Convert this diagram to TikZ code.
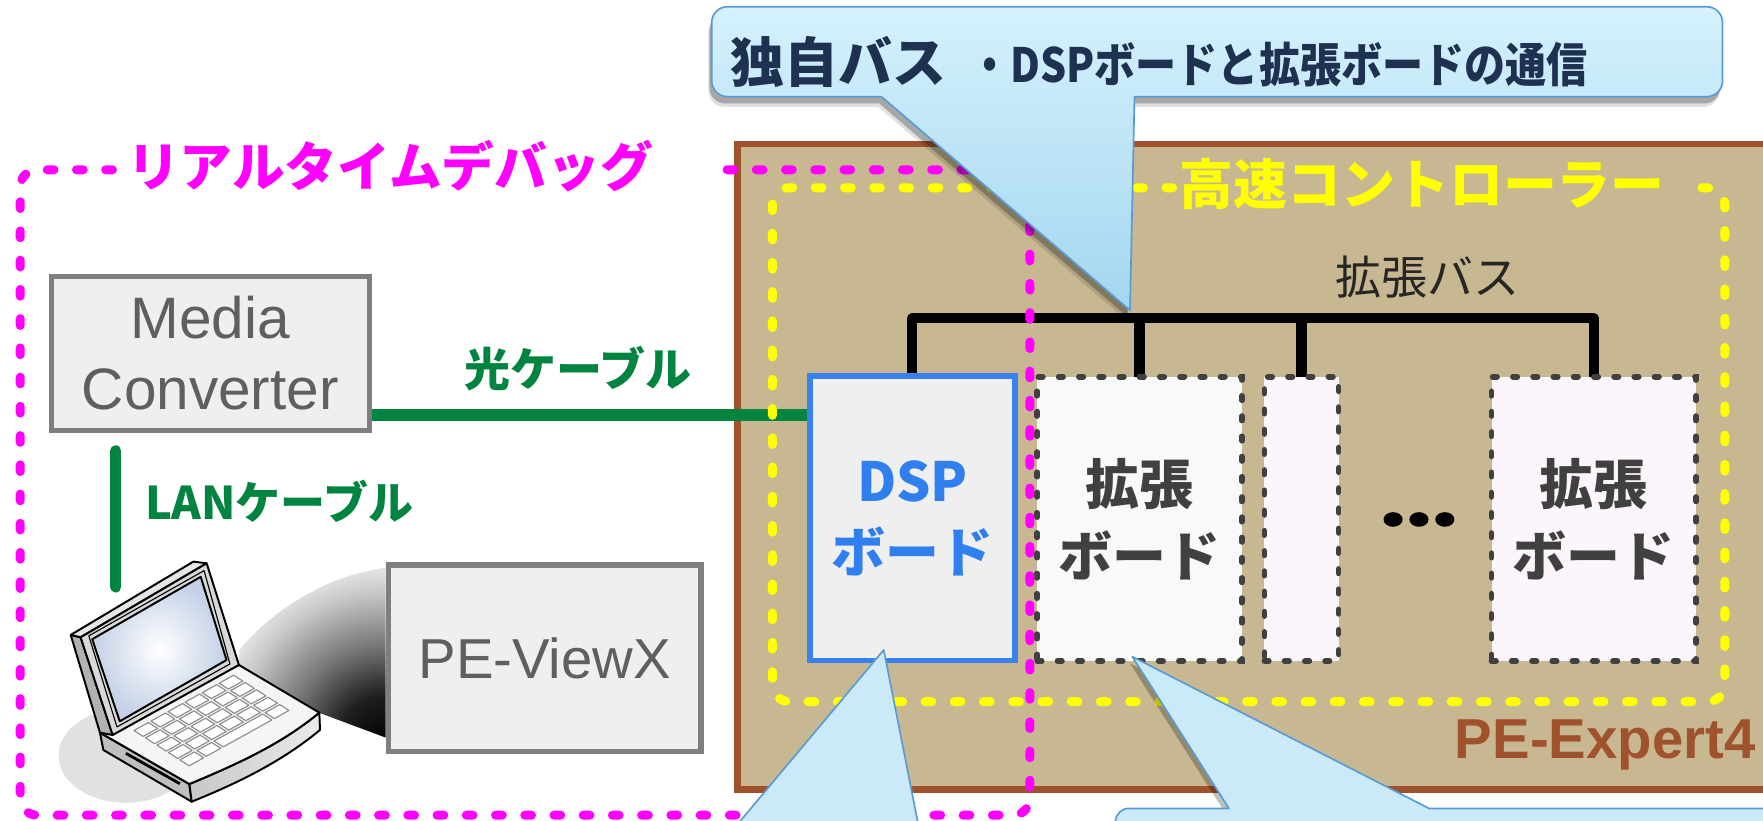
\documentclass[tikz,border=0pt]{standalone}
\usepackage{graphicx}
\usepackage{fontspec}
\setmainfont{Liberation Sans}
\newfontfamily\jpfont{Noto Sans CJK JP}
\usetikzlibrary{calc}

\definecolor{rtMag}{HTML}{FF00FF}
\definecolor{hsYel}{HTML}{FFFF00}
\definecolor{houseTan}{HTML}{C7B891}
\definecolor{houseBrown}{HTML}{A0522D}
\definecolor{cableGreen}{HTML}{00843F}
\definecolor{boxGray}{HTML}{7F7F7F}
\definecolor{boxFill}{HTML}{EFEFEF}
\definecolor{boxText}{HTML}{5F5F5F}
\definecolor{dspBlue}{HTML}{3A80EE}
\definecolor{dspText}{HTML}{2F7FEE}
\definecolor{boardDark}{HTML}{404040}
\definecolor{boardFillA}{HTML}{F9F9F9}
\definecolor{boardFillB}{HTML}{FCF6FC}
\definecolor{navyText}{HTML}{1F3150}
\definecolor{busText}{HTML}{262626}
\definecolor{callTop}{HTML}{D5F1FD}
\definecolor{callBot}{HTML}{A3D6EF}
\definecolor{callFill}{HTML}{CBEAF9}
\definecolor{callEdge}{HTML}{5B9BD5}
\definecolor{screenBlue}{HTML}{C3D0E6}
\definecolor{lapShadow}{HTML}{E1E1E1}

\pgfdeclarelayer{base}
\pgfdeclarelayer{wires}
\pgfsetlayers{base,wires,main}

% projection beam: dark at the window's lower left corner, fading out
\pgfdeclareradialshading{beamglow}{\pgfpoint{0bp}{0bp}}{color(0bp)=(black); color(6bp)=(black!88); color(12bp)=(black!55); color(19bp)=(black!22); color(25bp)=(white); color(50bp)=(white)}

% one key on the laptop deck, given by deck parameters u, v, width, depth
\newcommand\lapkey[4]{%
  \pgfmathsetmacro\kax{100.2+112.3*(#1)+68.2*(#2)}%
  \pgfmathsetmacro\kay{653.7-62.3*(#1)+43.6*(#2)}%
  \pgfmathsetmacro\kbx{100.2+112.3*(#1+#3)+68.2*(#2)}%
  \pgfmathsetmacro\kby{653.7-62.3*(#1+#3)+43.6*(#2)}%
  \pgfmathsetmacro\kcx{100.2+112.3*(#1+#3)+68.2*(#2+#4)}%
  \pgfmathsetmacro\kcy{653.7-62.3*(#1+#3)+43.6*(#2+#4)}%
  \pgfmathsetmacro\kdx{100.2+112.3*(#1)+68.2*(#2+#4)}%
  \pgfmathsetmacro\kdy{653.7-62.3*(#1)+43.6*(#2+#4)}%
  \filldraw[lapkeystyle] (\kax,\kay) -- (\kbx,\kby) -- (\kcx,\kcy) -- (\kdx,\kdy) -- cycle;}

\begin{document}
\begin{tikzpicture}[x=0.02cm,y=-0.02cm,
  lbl/.style={inner sep=0pt, outer sep=0pt},
  housing/.style={draw=houseBrown, fill=houseTan, line width=0.12cm, inner sep=0pt, outer sep=0pt},
  greybox/.style={draw=boxGray, fill=boxFill, line width=0.09cm, inner sep=0pt, outer sep=0pt,
    text=boxText, align=center},
  dspbox/.style={draw=dspBlue, fill=boxFill, line width=0.1cm, inner sep=0pt, outer sep=0pt,
    minimum width=3.64cm, minimum height=5.06cm, align=center, text=dspText,
    font=\jpfont\bfseries\fontsize{27.3}{36.4}\selectfont},
  extboard/.style={draw=boardDark, line width=0.1cm, line cap=round, dash pattern=on 0.08cm off 0.28cm,
    inner sep=0pt, outer sep=0pt, minimum height=5.06cm, align=center, text=boardDark,
    font=\jpfont\bfseries\fontsize{27.3}{36.4}\selectfont},
  cable/.style={draw=cableGreen, line width=0.2cm, line cap=round},
  bus/.style={draw=black, line width=0.18cm, line join=round},
  groupline/.style={line width=0.16cm, line cap=round, dash pattern=on 0.12cm off 0.4cm, rounded corners=0.3cm},
  lapline/.style={draw=black, line width=0.035cm, line join=round},
  lapkeystyle/.style={fill=white, draw=black!45, line width=0.02cm, line join=round},
  topcall/.style={insert path={(1200,6) [rounded corners=0.28cm] -- (1532,6) -- (1532,86) -- (1200,86)
    [sharp corners] -- (1009,86) -- (1005,276) -- (784,86) -- (720,86)
    [rounded corners=0.28cm] -- (633,86) -- (633,6) -- cycle}},
  dspcall/.style={insert path={(786,578) -- (646,745) -- (819,745) -- cycle}},
  extcall/.style={insert path={(1620,790) -- (1620,719) -- (1271,719) -- (1007,584) -- (1093,719) -- (1040,719)
    [rounded corners=0.24cm] -- (992,719) -- (992,770) [sharp corners] -- (992,790) -- cycle}},
]
\useasboundingbox (0,0) rectangle (1568,730);
\clip (0,0) rectangle (1568,730);

% PE-Expert4 housing
\begin{pgfonlayer}{base}
  \fill[white] (0,0) rectangle (1568,730);
  \node[housing, minimum width=18.68cm, minimum height=11.48cm] (house) at (1123,415) {};
\end{pgfonlayer}

% host side: converter, laptop, PE-ViewX window
\node[greybox, minimum width=5.66cm, minimum height=2.74cm,
  font=\fontsize{29.6}{36.4}\selectfont] (mc) at (187,314) {Media\\Converter};
\coordinate (lanA) at (103,401);
\coordinate (lanB) at (103,522);

\begin{scope}
  \clip (213,578) .. controls (235,550) and (285,512) .. (343,505) -- (343,656) -- (284,634) -- (212,591) -- cycle;
  \shade[shading=beamglow] (343,660) circle [radius=175];
\end{scope}
\node[greybox, minimum width=5.56cm, minimum height=3.32cm,
  font=\fontsize{28.5}{34}\selectfont] (pv) at (484.5,585.5) {PE-ViewX};

% laptop
\fill[lapShadow] (112,672) ellipse [x radius=60, y radius=42];
\filldraw[lapline, fill=black!25] (88.9,651.6) -- (168.4,697.3) -- (170.5,713.0) -- (91.9,667.0) -- cycle;
\draw[lapline, line width=0.05cm] (112,670) -- (160,697);
\shadedraw[lapline, left color=black!22, right color=black!8]
  (168.4,697.3) .. controls (210,680) and (250,662) .. (284.0,633.8) -- (284.6,649.2)
  .. controls (250,678) and (210,697) .. (170.5,713.0) -- cycle;
\filldraw[lapline, fill=black!4] (88.9,651.6) -- (212.5,591.4) -- (284.0,633.8)
  .. controls (250,662) and (210,680) .. (168.4,697.3) -- cycle;
\foreach \r in {0,...,3}{
  \foreach \c in {0,...,5}{
    \lapkey{0.12+\c*0.135}{0.08+\r*0.15}{0.115}{0.12}
  }
}
\lapkey{0.12}{0.68}{0.115}{0.12}
\lapkey{0.255}{0.68}{0.115}{0.12}
\lapkey{0.39}{0.68}{0.385}{0.12}
\lapkey{0.795}{0.68}{0.115}{0.12}
\filldraw[lapline, fill=black!30] (62.9,564.7) -- (71.7,566.8) -- (100.2,653.7) -- (88.9,651.6) -- cycle;
\filldraw[lapline, fill=black!10] (62.9,564.7) -- (172.0,499.5) -- (183.8,501.0) -- (71.7,566.8) -- cycle;
\filldraw[lapline, fill=black!15] (71.7,566.8) -- (183.8,501.0) -- (212.5,591.4) -- (100.2,653.7) -- cycle;
\draw[lapline, line width=0.02cm] (79,565.5) -- (181.5,507.5) -- (204.5,590.5) -- (104,646.5) -- cycle;
\shadedraw[lapline, inner color=white, outer color=screenBlue]
  (82,568.5) -- (178.5,513) -- (201.5,587) -- (106.5,641.5) -- cycle;

% controller boards
\node[dspbox] (dsp) at (811.5,461) {DSP\\ボード};
\node[extboard, fill=boardFillA, minimum width=3.64cm] (bA) at (1013.5,461.5) {拡張\\ボード};
\node[extboard, fill=boardFillB, minimum width=1.32cm] (bB) at (1157.5,461.5) {};
\node[extboard, fill=boardFillB, minimum width=3.64cm] (bC) at (1417.5,461.5) {拡張\\ボード};
\foreach \dx in {1239,1262,1285}
  \fill[black] (\dx,462) ellipse [x radius=8.5, y radius=6.5];

% cables and expansion bus, kept beneath the boxes
\coordinate (fy) at (0,369);
\coordinate (busy) at (0,283);
\begin{pgfonlayer}{wires}
  \draw[cable] (lanA) -- (lanB);
  \draw[cable] (mc.east |- fy) -- (dsp.west |- fy);
  \draw[bus] (dsp.north) -- (dsp.north |- busy) -- (bC.north |- busy) -- (bC.north);
  \draw[bus] (bA.north) -- (bA.north |- busy);
  \draw[bus] (bB.north) -- (bB.north |- busy);
\end{pgfonlayer}

% high-speed controller group
\draw[groupline, draw=hsYel] (1043,167) -- (687,167) -- (687,624) -- (1534,624) -- (1534,167) -- (1513,167);
\node[lbl, anchor=west, text=hsYel, font=\jpfont\bfseries\fontsize{27.3}{30}\selectfont] (hstitle) at (1049,164) {高速コントローラー};

% real-time debug group
\draw[groupline, draw=rtMag] (100,151) -- (18,151) -- (18,725) -- (916,725) -- (916,151) -- (630,151);
\node[lbl, anchor=west, text=rtMag, font=\jpfont\bfseries\fontsize{26.7}{30}\selectfont] (rttitle) at (113,148) {リアルタイムデバッグ};

% labels
\node[lbl, text=cableGreen, font=\jpfont\bfseries\fontsize{23.3}{28}\selectfont] (fiberlbl) at (514,328) {光ケーブル};
\node[lbl, anchor=west, text=cableGreen, font=\jpfont\bfseries\fontsize{22.8}{28}\selectfont] (lanlbl) at (129,446) {LANケーブル};
\node[lbl, text=busText, font=\jpfont\fontsize{23.3}{28}\selectfont] (buslbl) at (1270,246) {拡張バス};
\node[lbl, anchor=base west, text=houseBrown, font=\bfseries\fontsize{28.5}{32}\selectfont] (houselbl) at (1294,675) {PE-Expert4};

% callouts
\fill[black, opacity=0.12, shift={(-3,9)}, topcall];
\fill[black, opacity=0.25, shift={(-2,6)}, topcall];
\shadedraw[top color=callTop, bottom color=callBot, draw=callEdge, line width=0.03cm, line join=round, topcall];
\fill[black, opacity=0.25, shift={(-2,6)}, extcall];
\filldraw[fill=callFill, draw=callEdge, line width=0.03cm, line join=round, extcall];
\filldraw[fill=callFill, draw=callEdge, line width=0.03cm, line join=round, dspcall];
\node[lbl, anchor=west, text=navyText, font=\jpfont\bfseries\fontsize{27.3}{30}\selectfont] (ctitle) at (650,55) {独自バス};
\node[lbl, anchor=west, text=navyText, font=\jpfont\bfseries\fontsize{23.9}{28}\selectfont] (cbody) at (862,57) {\scalebox{0.87}[1]{・DSPボードと拡張ボードの通信}};
\end{tikzpicture}
\end{document}
